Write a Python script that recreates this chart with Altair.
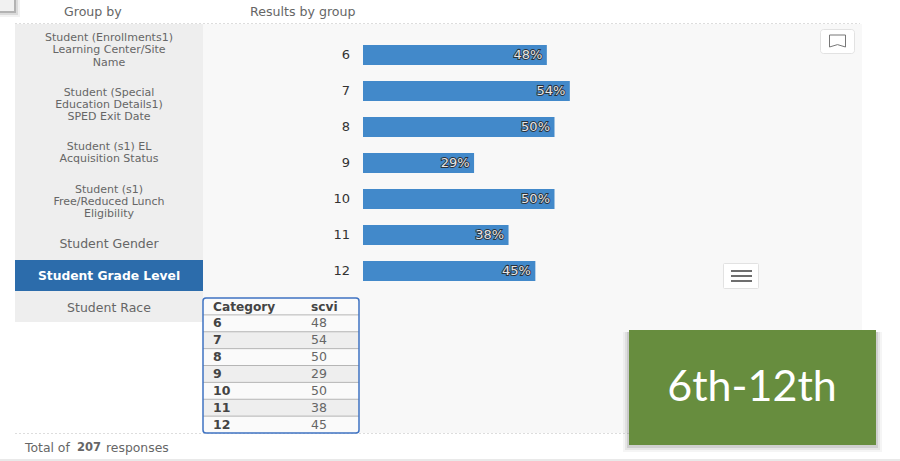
import altair as alt
import pandas as pd

# Survey results by grade level
grades = ["6", "7", "8", "9", "10", "11", "12"]
scvi = [48, 54, 50, 29, 50, 38, 45]
group_names = [
    "Student (Enrollments1)\nLearning Center/Site\nName",
    "Student (Special\nEducation Details1)\nSPED Exit Date",
    "Student (s1) EL\nAcquisition Status",
    "Student (s1)\nFree/Reduced Lunch\nEligibility",
    "Student Gender",
    "Student Grade Level",
    "Student Race",
]
selected_group = "Student Grade Level"
table_columns = ["Category", "scvi"]
footer_parts = ["Total of", "207", "responses"]

W, H = 900, 461
SANS = "DejaVu Sans"
GREY_TEXT = "#666666"

df = pd.DataFrame({"grade": grades, "scvi": scvi})
df["label"] = [f"{v}%" for v in scvi]
df["text"] = [str(v) for v in scvi]
df["shade"] = [i % 2 == 1 for i in range(len(grades))]

one = pd.DataFrame({"_": [0]})


def box(x, x2, y, y2, **style):
    """A layout rectangle placed in page pixels."""
    return alt.Chart(one).mark_rect(**style).encode(
        x=alt.value(x), x2=alt.value(x2), y=alt.value(y), y2=alt.value(y2)
    )


def caption(text, x, y, **style):
    """A piece of page text placed in page pixels."""
    frame = pd.DataFrame({"t": [text]})
    return alt.Chart(frame).mark_text(**style).encode(
        text="t:N", x=alt.value(x), y=alt.value(y)
    )


def hline(x, x2, y, **style):
    return alt.Chart(one).mark_rule(**style).encode(
        x=alt.value(x), x2=alt.value(x2), y=alt.value(y)
    )


# Page frame and panels
layers = [
    box(0, W, 0, H, color="#ffffff"),
    box(0, 20, 0, 17, color="#555555", opacity=0.08),
    box(0, 18, 0, 15, color="#555555", opacity=0.15),
    box(0, 16, 0, 13, color="#555555", opacity=0.3),
    box(0, 14, 0, 11, color="#f1f1f1"),
    box(203, 862, 24, 433, color="#f8f8f8"),
    box(15, 203, 24, 322, color="#eeeeee"),
    box(15, 203, 260, 291, color="#2c6cab"),
    hline(15, 860, 23.5, color="#dddddd", strokeDash=[2, 2], strokeWidth=1),
    hline(15, 860, 433.5, color="#dddddd", strokeDash=[2, 2], strokeWidth=1),
    box(0, W, 459, H, color="#e9e9e9"),
    caption("Group by", 64, 11.5, align="left", baseline="middle", font=SANS, fontSize=12.6, color=GREY_TEXT),
    caption("Results by group", 250, 11.5, align="left", baseline="middle", font=SANS, fontSize=12.6, color=GREY_TEXT),
]

# Sidebar of grouping choices; y is the first line of each wrapped name
sidebar_first_lines = [38, 92.5, 146.5, 189.5, 244, 275.5, 307.5]
for name, first_line in zip(group_names, sidebar_first_lines):
    active = name == selected_group
    wrapped = "\n" in name
    layers.append(
        caption(
            name, 109, first_line,
            align="center", baseline="middle", lineBreak="\n", lineHeight=12.4,
            font=SANS, fontSize=12.3 if active else (11 if wrapped else 12.5),
            fontWeight="bold" if active else "normal",
            color="#ffffff" if active else GREY_TEXT,
        )
    )

# Horizontal bars with their category labels and percentages
x_scale = alt.Scale(domain=[0, 100], range=[363, 746])
y_scale = alt.Scale(domain=grades, range=[37, 289], paddingInner=4 / 9, paddingOuter=2 / 9)
bar_x = alt.X("scvi:Q", scale=x_scale, axis=None)
bar_y = alt.Y("grade:N", scale=y_scale, sort=None, axis=None)
bars = alt.Chart(df).mark_bar(color="#4289ca").encode(x=bar_x, y=bar_y)
grade_labels = alt.Chart(df).mark_text(
    align="right", baseline="middle", font=SANS, fontSize=13, color="#333333"
).encode(x=alt.value(350), y=bar_y, text="grade:N")
value_halo = alt.Chart(df).mark_text(
    align="right", baseline="middle", dx=-4.5, font=SANS, fontSize=13,
    fill="#2a333c", stroke="#2a333c", strokeWidth=1.8, opacity=1,
).encode(x=bar_x, y=bar_y, text="label:N")
value_labels = alt.Chart(df).mark_text(
    align="right", baseline="middle", dx=-4.5, font=SANS, fontSize=13, fill="#e6e6e6",
).encode(x=bar_x, y=bar_y, text="label:N")
layers += [bars, grade_labels, value_halo, value_labels]

# Data table under the bars
row_domain = ["header"] + grades
row_scale = alt.Scale(domain=row_domain, range=[298, 433], paddingInner=0, paddingOuter=0)
row_y = alt.Y("grade:N", scale=row_scale, sort=None, axis=None)
shaded = alt.Chart(df[df["shade"]]).mark_bar(color="#eeeeee").encode(
    x=alt.value(203), x2=alt.value(359), y=row_y
)
row_rules = alt.Chart(df).mark_rule(color="#b5b5b5", strokeWidth=1).encode(
    x=alt.value(203), x2=alt.value(359),
    y=alt.Y("grade:N", scale=row_scale, sort=None, axis=None, bandPosition=0),
)
row_names = alt.Chart(df).mark_text(
    align="left", baseline="middle", font=SANS, fontSize=12.5, fontWeight="bold", color="#444444"
).encode(x=alt.value(213), y=row_y, text="grade:N")
row_values = alt.Chart(df).mark_text(
    align="left", baseline="middle", font=SANS, fontSize=12.5, color="#666666"
).encode(x=alt.value(311), y=row_y, text="text:N")
layers += [
    box(203, 359, 298, 433, color="#fafafa"),
    shaded, row_rules, row_names, row_values,
    caption(table_columns[0], 213, 306.5, align="left", baseline="middle", font=SANS,
            fontSize=12.2, fontWeight="bold", color="#444444"),
    caption(table_columns[1], 311, 306.5, align="left", baseline="middle", font=SANS,
            fontSize=12.2, fontWeight="bold", color="#444444"),
    box(203, 359, 298, 433, fillOpacity=0, stroke="#3f73c2", strokeWidth=1.5, cornerRadius=3),
]

# Footer
for text, weight, left in zip(footer_parts, ["normal", "bold", "normal"], [25, 77, 106]):
    layers.append(caption(text, left, 447.5, align="left", baseline="middle", font=SANS,
                          fontSize=12.4 if weight == "normal" else 11.5,
                          fontWeight=weight, color=GREY_TEXT))

# Bookmark and menu buttons
bookmark_path = "M-1,-0.75 L1,-0.75 L1,0.75 L0,0.45 L-1,0.75 Z"
layers += [
    box(820.5, 854.5, 29.5, 53.5, color="#ffffff", stroke="#e2e2e2", strokeWidth=1, cornerRadius=3),
    alt.Chart(one).mark_point(shape=bookmark_path, size=256, filled=False, stroke="#777777", strokeWidth=1, opacity=1).encode(
        x=alt.value(837.5), y=alt.value(41)
    ),
    box(723.5, 758.5, 263.5, 288.5, color="#ffffff", stroke="#e2e2e2", strokeWidth=1, cornerRadius=1),
]
for y in [271, 276, 281]:
    layers.append(hline(731, 752, y, color="#6e6e6e", strokeWidth=2))

# Grade-band callout with a soft shadow
for grow, alpha in [(6, 0.05), (4, 0.08), (2, 0.14)]:
    layers.append(box(629 - grow, 876 + grow, 332, 446 + grow, color="#444444", opacity=alpha))
layers += [
    box(629, 876, 330, 445, color="#678d3e"),
    caption("6th-12th", 752, 388, align="center", baseline="middle", font="Lato",
            fontSize=43, color="#ffffff"),
]

chart = alt.layer(*layers).resolve_scale(y="independent", x="independent").properties(
    width=W, height=H, padding=0, autosize=alt.AutoSizeParams(type="none"),
    background="#ffffff",
).configure_view(stroke=None)

chart.save("out.html", embed_options={"renderer": "svg", "actions": False})
